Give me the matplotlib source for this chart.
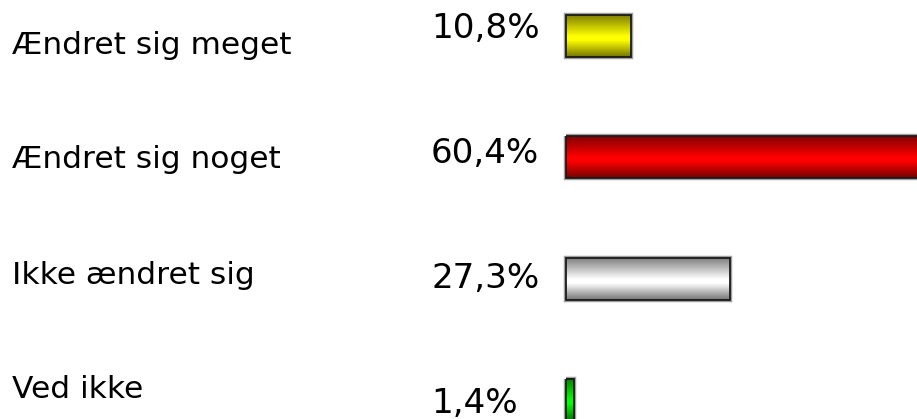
import numpy as np
import matplotlib
matplotlib.use("Agg")
import matplotlib.pyplot as plt
from matplotlib.patches import Rectangle
from matplotlib.colors import LinearSegmentedColormap

# Survey answers and their shares (%)
categories = ["Ændret sig meget", "Ændret sig noget", "Ikke ændret sig", "Ved ikke"]
values = [10.8, 60.4, 27.3, 1.4]
value_labels = ["10,8%", "60,4%", "27,3%", "1,4%"]
bar_colors = ["#ffff00", "#ff0000", "#ffffff", "#00ff00"]

W, H = 917, 419
DPI = 100
fig = plt.figure(figsize=(W / DPI, H / DPI), dpi=DPI)
fig.patch.set_facecolor("white")
ax = fig.add_axes([0, 0, 1, 1])
ax.set_axis_off()

# Scale: bars start at pixel 566, 6 px per percent; rows 121.3 px apart
x0_px, px_per_pct = 566, 6.0
row0_px, row_px = 36, 121.3
ax.set_xlim(-x0_px / px_per_pct, (W - x0_px) / px_per_pct)
ax.set_ylim((H - row0_px) / row_px, -row0_px / row_px)
bar_h = 42 / row_px


def shade(color):
    c = np.array(matplotlib.colors.to_rgb(color))
    dark = c * 0.5 if c.sum() < 2.9 else np.array([0.5, 0.5, 0.5])
    return LinearSegmentedColormap.from_list(
        "bar", [(0.0, dark), (0.5, c), (0.6, c), (1.0, dark * 0.9)]
    )


grad = np.linspace(0, 1, 256).reshape(-1, 1)
for i, (v, col) in enumerate(zip(values, bar_colors)):
    top, bottom = i - bar_h / 2, i + bar_h / 2
    ax.imshow(grad, cmap=shade(col), aspect="auto", interpolation="bilinear",
              extent=(0, v, bottom, top), zorder=2)
    ax.add_patch(Rectangle((0, top), v, bar_h, fill=False, edgecolor="#a0a0a0",
                           linewidth=3.2, zorder=1))
    ax.add_patch(Rectangle((0, top), v, bar_h, fill=False, edgecolor="#1a1a1a",
                           linewidth=1.3, zorder=3))


def fy(py):
    return 1 - py / H


# Category names on the left, percentages in front of the bars
cat_y = [43, 156.5, 272, 386.5]
pct_y = [25, 150, 275, 400]
for name, lab, cy, py in zip(categories, value_labels, cat_y, pct_y):
    fig.text(12 / W, fy(cy), name, fontsize=22.5, family="DejaVu Sans",
             ha="left", va="center_baseline", color="#000000")
    fig.text(431 / W, fy(py), lab, fontsize=24.6, family="DejaVu Sans",
             ha="left", va="center_baseline", color="#000000")

fig.savefig("out.png", dpi=DPI, facecolor="white")
